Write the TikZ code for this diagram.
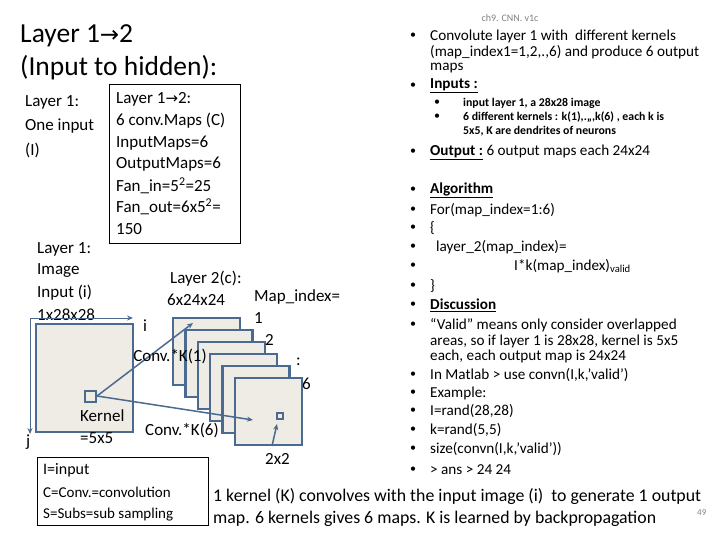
\documentclass[tikz,border=0pt]{standalone}
\usepackage{fontspec}
\setmainfont{Carlito}
\newfontfamily\dejavu{DejaVu Sans}
\usetikzlibrary{arrows.meta}
\definecolor{bord}{HTML}{4A6A90}
\definecolor{mapfill}{HTML}{EEECE4}
\begin{document}
\begin{tikzpicture}[x=1pt,y=-1pt,
  txt/.style={anchor=west,inner sep=0pt,font=\fontsize{17}{20}\selectfont},
  rt/.style={anchor=west,inner sep=0pt,font=\fontsize{15.2}{18}\selectfont},
  st/.style={anchor=west,inner sep=0pt,font=\fontsize{11.8}{14}\selectfont},
  bul/.style={anchor=center,inner sep=0pt,font=\fontsize{12}{14}\selectfont},
  mapsq/.style={draw=bord,line width=2.5pt,fill=mapfill},
  arr/.style={draw=bord,line width=1.5pt,-{Stealth[length=6pt,width=5pt]}}]
\useasboundingbox (0,0) rectangle (720,540);
% title
\node[anchor=west,inner sep=0pt,font=\fontsize{27.5}{32}\selectfont] (t1) at (20,36) {Layer 1{\dejavu\fontsize{23}{26}\selectfont→}2};
\node[anchor=west,inner sep=0pt,font=\fontsize{27.5}{32}\selectfont] (t2) at (20,68) {(Input to hidden):};
% left texts
\node[txt] (l1) at (25,102) {Layer 1:};
\node[txt] (l2) at (25,126) {One input};
\node[txt] (l3) at (25,150) {(I)};
\draw[line width=0.8pt] (109,84) rectangle (240,243);
\node[txt] (b1) at (116,99) {Layer 1{\dejavu\fontsize{15}{17}\selectfont→}2:};
\node[txt] (b2) at (116,121) {6 conv.Maps (C)};
\node[txt] (b3) at (116,143) {InputMaps=6};
\node[txt] (b4) at (116,164) {OutputMaps=6};
\node[txt] (b5) at (116,186) {Fan\_in=5\textsuperscript{2}=25};
\node[txt] (b6) at (116,207) {Fan\_out=6x5\textsuperscript{2}=};
\node[txt] (b7) at (116,229) {150};
\node[txt] (m1) at (37,249) {Layer 1:};
\node[txt] (m2) at (37,271) {Image};
\node[txt] (m3) at (37,293) {Input (i)};
\node[txt] (m4) at (37,315) {1x28x28};
% input image
\draw[mapsq] (36,324) rectangle (133,432);
\coordinate (o) at (30,318);
\coordinate (ie) at (133,318);
\coordinate (je) at (30,434);
\draw[arr,line width=1pt] (o) -- (ie);
\draw[arr,line width=1pt] (o) -- (je);
\node[txt] (ii) at (143,326) {i};
\node[txt] (jj) at (26,442) {j};
\draw[draw=bord,line width=2.5pt,fill=mapfill] (85,391) rectangle (96,402);
\coordinate (k) at (97,396);
\node[txt] (kl) at (80,416) {Kernel};
\node[txt] (kl2) at (80,438) {=5x5};
% maps
\foreach \n in {0,...,5}{
  \draw[mapsq] ({173+12.4*\n},{318+12*\n}) rectangle ++(67,67);
}
\draw[draw=bord,line width=2pt,fill=mapfill] (277,413) rectangle (283,419);
\coordinate (k1) at (193,323);
\coordinate (k6) at (253,420);
\coordinate (s2) at (272,446);
\coordinate (s2e) at (277,424);
\draw[arr] (k) -- (k1);
\draw[arr] (k) -- (k6);
\draw[arr] (s2) -- (s2e);
\node[txt,anchor=center] (c1) at (170,356) {Conv.*K(1)};
\node[txt] (c6) at (145,430) {Conv.*K(6)};
\node[txt] (s2l) at (265,459) {2x2};
\node[txt] (L2a) at (170,279) {Layer 2(c):};
\node[txt] (L2b) at (167,300) {6x24x24};
\node[txt] (mi) at (254,297) {Map\_index=};
\node[txt] (mi1) at (254,318) {1};
\node[txt] (mi2) at (265,340) {2};
\node[txt] (mi3) at (296,362) {:};
\node[txt] (mi6) at (302,384) {6};
% legend
\draw[line width=0.8pt] (37,457) rectangle (208,525);
\node[txt,font=\fontsize{16}{18}\selectfont] (g1) at (43,470) {I=input};
\node[txt,font=\fontsize{15}{18}\selectfont] (g2) at (43,492) {C=Conv.=convolution};
\node[txt,font=\fontsize{15}{18}\selectfont] (g3) at (43,515) {S=Subs=sub sampling};
\node[txt,font=\fontsize{17.8}{20}\selectfont] (bt1) at (213,497) {1 kernel (K) convolves with the input image (i)\ \ to generate 1 output};
\node[txt,font=\fontsize{17.8}{20}\selectfont] (bt2) at (213,519) {map. 6 kernels gives 6 maps. K is learned by backpropagation};
\node[anchor=west,inner sep=0pt,font=\fontsize{9}{10}\selectfont,text=gray] (pg) at (697,513) {49};
% right column
\node[anchor=center,inner sep=0pt,font=\fontsize{10}{11}\selectfont,text=gray] (hdr) at (510,18) {ch9. CNN. v1c};
\foreach \y in {36,86,152,190,210,228,247,266,286,305,325,375,393,411,430,449,470}{
  \node[bul] at (413,\y) {•};
}
\node[rt] (r1) at (430,36) {Convolute layer 1 with\ \ different kernels};
\node[rt] (r2) at (430,52) {(map\_index1=1,2,.,6) and produce 6 output};
\node[rt] (r3) at (430,68) {maps};
\node[rt] (r4) at (430,86) {\textbf{\underline{Inputs :}}};
\node[bul] at (437,103) {•};
\node[bul] at (437,117) {•};
\node[st] (r5) at (463,103) {\textbf{input layer 1, a 28x28 image}};
\node[st] (r6) at (463,117) {\textbf{6 different kernels : k(1),.,,,k(6) , each k is}};
\node[st] (r7) at (463,131) {\textbf{5x5, K are dendrites of neurons}};
\node[rt] (r8) at (430,152) {\textbf{\underline{Output :}} 6 output maps each 24x24};
\node[rt] (r9) at (430,190) {\textbf{\underline{Algorithm}}};
\node[rt] (r10) at (430,210) {For(map\_index=1:6)};
\node[rt] (r11) at (430,228) {\{};
\node[rt] (r12) at (436,247) {layer\_2(map\_index)=};
\node[rt] (r13) at (514,266) {I*k(map\_index)\textsubscript{valid}};
\node[rt] (r14) at (430,286) {\}};
\node[rt] (r15) at (430,305) {\textbf{\underline{Discussion}}};
\node[rt] (r16) at (430,325) {“Valid” means only consider overlapped};
\node[rt] (r17) at (430,341) {areas, so if layer 1 is 28x28, kernel is 5x5};
\node[rt] (r18) at (430,356) {each, each output map is 24x24};
\node[rt] (r19) at (430,375) {In Matlab > use convn(I,k,’valid’)};
\node[rt] (r20) at (430,393) {Example:};
\node[rt] (r21) at (430,411) {I=rand(28,28)};
\node[rt] (r22) at (430,430) {k=rand(5,5)};
\node[rt] (r23) at (430,449) {size(convn(I,k,’valid’))};
\node[rt] (r24) at (430,470) {> ans > 24 24};
\end{tikzpicture}
\end{document}
